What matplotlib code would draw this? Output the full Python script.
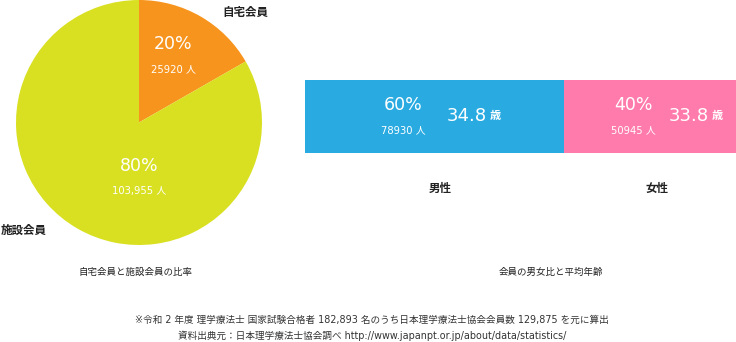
import matplotlib
matplotlib.use("Agg")
from matplotlib import pyplot as plt

plt.rcParams['font.family'] = ['DejaVu Sans', 'Noto Sans CJK JP']

# ---- données ----
member_types = ['自宅会員', '施設会員']
member_share = [16.7, 83.3]          # part visible sur le camembert
member_pct = ['20%', '80%']
member_count = ['25920 人', '103,955 人']
member_colors = ['#F7941D', '#D9E021']

sexes = ['男性', '女性']
sex_share = [60, 40]
sex_pct = ['60%', '40%']
sex_count = ['78930 人', '50945 人']
sex_age = ['34.8', '33.8']
sex_colors = ['#29ABE2', '#FF7BAC']

W, H = 736, 342
fig = plt.figure(figsize=(W / 100, H / 100), dpi=100)
fig.patch.set_facecolor('white')


def px(x, y):
    # pixels (origine en haut à gauche) -> fraction de figure
    return x / W, 1 - y / H


def txt(x, y, s, size, color='#222222', weight='normal', ha='center'):
    fx, fy = px(x, y)
    fig.text(fx, fy, s, fontsize=size, color=color, weight=weight, ha=ha, va='center')


#----------------- Camembert -----------------#
ax1 = fig.add_axes([16 / W, 1 - 245 / H, 246 / W, 245 / H])
ax1.pie(member_share, colors=member_colors, startangle=90, counterclock=False,
        radius=1, wedgeprops=dict(linewidth=0))
ax1.set_xlim(-1, 1)
ax1.set_ylim(-1, 1)
ax1.set_aspect('auto')
ax1.axis('off')

txt(173, 44, member_pct[0], 12.5, color='white')
txt(173, 69, member_count[0], 7.2, color='white')
txt(139, 166, member_pct[1], 12.5, color='white')
txt(139, 191, member_count[1], 7.2, color='white')
txt(245, 12, member_types[0], 8.3, weight='bold')
txt(24, 230, member_types[1], 8.3, weight='bold')

#----------------- Barre empilée -----------------#
ax2 = fig.add_axes([305 / W, 1 - 153 / H, 431 / W, 73 / H])
left = 0
for share, col in zip(sex_share, sex_colors):
    ax2.barh(0, share, left=left, height=1, color=col, linewidth=0)
    left += share
ax2.set_xlim(0, 100)
ax2.set_ylim(-0.5, 0.5)
ax2.axis('off')

for i, (xp, xa) in enumerate([(403, 473), (633, 695)]):
    txt(xp, 105, sex_pct[i], 12.5, color='white')
    txt(xp, 130, sex_count[i], 7.2, color='white')
    fx, fy = px(xa + 14, 116)
    fig.text(fx, fy, sex_age[i], fontsize=13, color='white', ha='right', va='center')
    fx, fy = px(xa + 17, 116)
    fig.text(fx, fy, '歳', fontsize=8, color='white', weight='bold', ha='left', va='center')

txt(440, 188, sexes[0], 8.3, weight='bold')
txt(657, 188, sexes[1], 8.3, weight='bold')

#----------------- Légendes et notes -----------------#
txt(135, 272, '自宅会員と施設会員の比率', 6.8)
txt(551, 272, '会員の男女比と平均年齢', 6.8)
txt(372, 320, '※令和 2 年度 理学療法士 国家試験合格者 182,893 名のうち日本理学療法士協会会員数 129,875 を元に算出', 6.9, color='#333333')
txt(372, 336, '資料出典元：日本理学療法士協会調べ http://www.japanpt.or.jp/about/data/statistics/', 6.9, color='#333333')

fig.savefig('out.png', dpi=100, facecolor='white')
